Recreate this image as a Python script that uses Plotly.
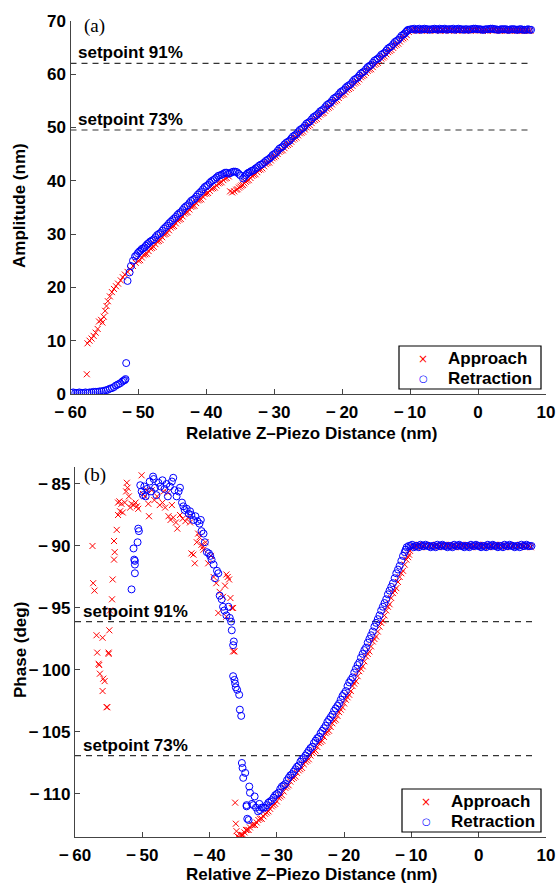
import plotly.graph_objects as go

# ---------------- data ----------------
amp_approach = [(-57.6,3.7),(-57.5,9.5),(-57.2,10.0),(-56.9,10.4),(-56.6,10.9),(-56.3,11.5),(-56.0,12.2),(-55.8,13.6),(-55.5,13.9),(-55.3,13.4),(-55.1,14.5),(-54.9,15.6),(-54.7,16.5),(-54.5,17.4),(-54.2,18.3),(-53.9,19.1),(-53.6,19.7),(-53.3,20.2),(-53.0,20.7),(-52.6,21.3),(-52.3,21.9),(-52.0,22.4),(-51.6,22.9),(-51.2,23.4),(-50.8,24.0),(-50.4,24.6),(-50.0,25.0),(-49.5,25.6),(-49.0,26.2),(-48.5,26.8),(-48.0,27.4),(-47.5,28.1),(-47.0,28.7),(-46.5,29.4),(-46.0,30.0),(-45.5,30.7),(-45.0,31.4),(-44.5,32.0),(-44.0,32.7),(-43.5,33.3),(-43.0,34.0),(-42.5,34.6),(-42.0,35.2),(-41.5,35.8),(-41.0,36.4),(-40.5,37.0),(-40.0,37.6),(-39.5,38.1),(-39.0,38.6),(-38.5,39.1),(-38.0,39.6),(-37.5,40.1),(-37.0,40.5),(-36.7,40.8),(-36.5,38.0),(-36.2,37.8),(-35.9,38.0),(-35.6,38.3),(-35.2,38.7),(-34.8,39.1),(-34.4,39.5),(-34.0,40.0),(-33.5,40.5),(-33.0,41.1),(-32.5,41.6),(-32.0,42.1),(-31.5,42.7),(-31.0,43.3),(-30.5,43.8),(-30.0,44.4),(-29.5,45.0),(-29.0,45.6),(-28.5,46.1),(-28.0,46.7),(-27.5,47.3),(-27.0,47.9),(-26.5,48.5),(-26.0,49.0),(-25.5,49.6),(-25.0,50.2),(-24.5,50.8),(-24.0,51.4),(-23.5,52.0),(-23.0,52.6),(-22.5,53.1),(-22.0,53.7),(-21.5,54.3),(-21.0,54.9),(-20.5,55.5),(-20.0,56.1),(-19.5,56.6),(-19.0,57.2),(-18.5,57.8),(-18.0,58.4),(-17.5,59.0),(-17.0,59.6),(-16.5,60.2),(-16.0,60.8),(-15.5,61.3),(-15.0,61.9),(-14.5,62.5),(-14.0,63.1),(-13.5,63.7),(-13.0,64.3),(-12.5,64.9),(-12.0,65.5),(-11.5,66.1),(-11.0,66.7),(-10.5,67.3),(-10.2,67.9),(-9.8,68.2),(-9.3,68.3),(-8.8,68.2),(-8.3,68.1),(-7.8,68.3),(-7.3,68.2),(-6.8,68.3),(-6.3,68.2),(-5.8,68.2),(-5.3,68.3),(-4.8,68.1),(-4.3,68.2),(-3.8,68.3),(-3.3,68.2),(-2.8,68.2),(-2.3,68.1),(-1.8,68.3),(-1.3,68.2),(-0.8,68.2),(-0.3,68.3),(0.2,68.2),(0.7,68.1),(1.2,68.2),(1.7,68.3),(2.2,68.2),(2.7,68.2),(3.2,68.1),(3.7,68.2),(4.2,68.2),(4.7,68.1),(5.2,68.2),(5.7,68.2),(6.2,68.1),(6.7,68.1),(7.2,68.2),(7.7,68.1)]
amp_approach_more = [(-49.75,25.1),(-49.25,26.1),(-48.75,26.3),(-48.25,27.3),(-47.75,27.6),(-47.25,28.6),(-46.75,28.9),(-46.25,29.9),(-45.75,30.2),(-45.25,31.2),(-44.75,31.5),(-44.25,32.5),(-43.75,32.8),(-43.25,33.8),(-42.75,34.1),(-42.25,35.1),(-41.75,35.3),(-41.25,36.3),(-40.75,36.5),(-40.25,37.5),(-39.75,37.7),(-39.25,38.5),(-38.75,38.7),(-38.25,39.5),(-37.75,39.7),(-37.25,40.4),(-35.4,38.4),(-35.0,38.9),(-34.6,39.2),(-34.2,39.8),(-33.75,40.1),(-33.25,40.9),(-32.75,41.2),(-32.25,42.0),(-31.75,42.3),(-31.25,43.1),(-30.75,43.4),(-30.25,44.2),(-29.75,44.6),(-29.25,45.4),(-28.75,45.7),(-28.25,46.5),(-27.75,46.9),(-27.25,47.7),(-26.75,48.1),(-26.25,48.9),(-25.75,49.2),(-25.25,50.0),(-24.75,50.4),(-24.25,51.2),(-23.75,51.6),(-23.25,52.4),(-22.75,52.7),(-22.25,53.5),(-21.75,53.9),(-21.25,54.7),(-20.75,55.1),(-20.25,55.9),(-19.75,56.2),(-19.25,57.0),(-18.75,57.4),(-18.25,58.2),(-17.75,58.6),(-17.25,59.4),(-16.75,59.8),(-16.25,60.6),(-15.75,60.9),(-15.25,61.7),(-14.75,62.1),(-14.25,62.9),(-13.75,63.3),(-13.25,64.1),(-12.75,64.5),(-12.25,65.3),(-11.75,65.7),(-11.25,66.5),(-10.75,66.9),(-9.55,68.2),(-9.05,68.1),(-8.55,68.3),(-8.05,68.2),(-7.55,68.2),(-7.05,68.1),(-6.55,68.3),(-6.05,68.2),(-5.55,68.1),(-5.05,68.2),(-4.55,68.3),(-4.05,68.2),(-3.55,68.1),(-3.05,68.2),(-2.55,68.3),(-2.05,68.2),(-1.55,68.2),(-1.05,68.1),(-0.55,68.2),(-0.05,68.3),(0.45,68.2),(0.95,68.2),(1.45,68.1),(1.95,68.2),(2.45,68.3),(2.95,68.2),(3.45,68.1),(3.95,68.2),(4.45,68.2),(4.95,68.1),(5.45,68.2),(5.95,68.2),(6.45,68.1),(6.95,68.2),(7.45,68.1)]

amp_retraction = [(-59.9,0.2),(-59.6,0.3),(-59.3,0.2),(-59.0,0.2),(-58.7,0.3),(-58.4,0.2),(-58.1,0.2),(-57.8,0.3),(-57.5,0.2),(-57.2,0.3),(-56.9,0.3),(-56.6,0.4),(-56.3,0.4),(-56.0,0.4),(-55.7,0.5),(-55.4,0.5),(-55.1,0.6),(-54.8,0.7),(-54.5,0.8),(-54.2,1.0),(-53.9,1.1),(-53.6,1.3),(-53.3,1.6),(-53.0,1.8),(-52.7,2.0),(-52.4,2.3),(-52.2,2.5),(-52.0,2.6),(-51.9,2.8),(-51.8,5.8),(-51.6,21.2),(-51.3,22.8),(-51.1,24.0),(-50.8,25.0),(-50.5,25.8),(-50.1,26.4),(-49.7,26.9),(-49.3,27.3),(-48.9,27.8),(-48.5,28.3),(-48.0,28.8),(-47.5,29.4),(-47.0,30.0),(-46.5,30.6),(-46.0,31.3),(-45.5,32.0),(-45.0,32.6),(-44.5,33.2),(-44.0,33.9),(-43.5,34.5),(-43.0,35.2),(-42.5,35.8),(-42.0,36.4),(-41.5,37.0),(-41.0,37.7),(-40.5,38.4),(-40.0,39.0),(-39.5,39.6),(-39.0,40.1),(-38.5,40.6),(-38.0,41.0),(-37.5,41.3),(-37.0,41.5),(-36.5,41.4),(-36.0,41.7),(-35.5,41.6),(-35.0,41.0),(-34.6,40.4),(-34.2,41.0),(-33.8,41.5),(-33.4,41.8),(-33.0,42.0),(-32.5,42.5),(-32.0,43.0),(-31.5,43.4),(-31.0,43.9),(-30.5,44.4),(-30.0,45.0),(-29.5,45.6),(-29.0,46.2),(-28.5,46.8),(-28.0,47.3),(-27.5,47.9),(-27.0,48.5),(-26.5,49.1),(-26.0,49.7),(-25.5,50.3),(-25.0,50.9),(-24.5,51.5),(-24.0,52.1),(-23.5,52.6),(-23.0,53.2),(-22.5,53.8),(-22.0,54.4),(-21.5,55.0),(-21.0,55.6),(-20.5,56.2),(-20.0,56.8),(-19.5,57.4),(-19.0,57.9),(-18.5,58.5),(-18.0,59.1),(-17.5,59.7),(-17.0,60.3),(-16.5,60.9),(-16.0,61.5),(-15.5,62.1),(-15.0,62.7),(-14.5,63.2),(-14.0,63.8),(-13.5,64.4),(-13.0,65.0),(-12.5,65.6),(-12.0,66.2),(-11.5,66.8),(-11.0,67.4),(-10.6,67.9),(-10.3,68.3),(-9.9,68.4),(-9.4,68.5),(-8.9,68.4),(-8.4,68.3),(-7.9,68.5),(-7.4,68.4),(-6.9,68.4),(-6.4,68.5),(-5.9,68.3),(-5.4,68.4),(-4.9,68.5),(-4.4,68.4),(-3.9,68.4),(-3.4,68.3),(-2.9,68.5),(-2.4,68.4),(-1.9,68.4),(-1.4,68.3),(-0.9,68.4),(-0.4,68.5),(0.1,68.4),(0.6,68.3),(1.1,68.4),(1.6,68.4),(2.1,68.5),(2.6,68.4),(3.1,68.3),(3.6,68.4),(4.1,68.4),(4.6,68.3),(5.1,68.4),(5.6,68.3),(6.1,68.4),(6.6,68.3),(7.1,68.3),(7.6,68.3)]
amp_retraction_more = [(-50.3,26.0),(-49.9,26.7),(-49.5,27.2),(-49.1,27.5),(-48.7,28.1),(-48.25,28.6),(-47.75,29.0),(-47.25,29.8),(-46.75,30.2),(-46.25,31.0),(-45.75,31.6),(-45.25,32.3),(-44.75,32.9),(-44.25,33.6),(-43.75,34.1),(-43.25,34.9),(-42.75,35.4),(-42.25,36.2),(-41.75,36.6),(-41.25,37.4),(-40.75,38.0),(-40.25,38.8),(-39.75,39.2),(-39.25,39.9),(-38.75,40.3),(-38.25,40.9),(-37.75,41.1),(-37.25,41.5),(-36.75,41.3),(-36.25,41.6),(-35.75,41.7),(-35.25,41.3),(-34.4,40.7),(-34.0,41.3),(-33.6,41.6),(-33.2,41.9),(-32.75,42.3),(-32.25,42.8),(-31.75,43.1),(-31.25,43.7),(-30.75,44.1),(-30.25,44.8),(-29.75,45.2),(-29.25,46.0),(-28.75,46.4),(-28.25,47.1),(-27.75,47.5),(-27.25,48.3),(-26.75,48.7),(-26.25,49.5),(-25.75,49.9),(-25.25,50.7),(-24.75,51.1),(-24.25,51.9),(-23.75,52.3),(-23.25,53.0),(-22.75,53.4),(-22.25,54.2),(-21.75,54.6),(-21.25,55.4),(-20.75,55.8),(-20.25,56.6),(-19.75,57.0),(-19.25,57.7),(-18.75,58.1),(-18.25,58.9),(-17.75,59.3),(-17.25,60.1),(-16.75,60.5),(-16.25,61.3),(-15.75,61.7),(-15.25,62.5),(-14.75,62.9),(-14.25,63.6),(-13.75,64.0),(-13.25,64.8),(-12.75,65.2),(-12.25,66.0),(-11.75,66.4),(-11.25,67.2),(-10.8,67.6),(-10.45,68.1),(-9.65,68.4),(-9.15,68.3),(-8.65,68.5),(-8.15,68.4),(-7.65,68.4),(-7.15,68.3),(-6.65,68.4),(-6.15,68.4),(-5.65,68.5),(-5.15,68.4),(-4.65,68.3),(-4.15,68.4),(-3.65,68.5),(-3.15,68.4),(-2.65,68.4),(-2.15,68.3),(-1.65,68.4),(-1.15,68.4),(-0.65,68.5),(-0.15,68.4),(0.35,68.4),(0.85,68.3),(1.35,68.4),(1.85,68.5),(2.35,68.4),(2.85,68.3),(3.35,68.4),(3.85,68.4),(4.35,68.3),(4.85,68.4),(5.35,68.4),(5.85,68.3),(6.35,68.4),(6.85,68.3),(7.35,68.4),(7.8,68.3)]

phase_approach = [(-57.4,-90.0),(-57.3,-93.0),(-57.1,-93.6),(-56.8,-97.2),(-56.7,-98.6),(-56.5,-99.5),(-56.4,-99.6),(-56.3,-100.3),(-55.9,-97.4),(-55.8,-100.7),(-55.6,-100.9),(-55.9,-101.7),(-55.3,-103.0),(-55.2,-103.0),(-55.0,-98.6),(-55.0,-98.7),(-54.9,-96.8),(-54.8,-95.2),(-54.5,-94.3),(-54.4,-92.7),(-54.2,-91.1),(-54.1,-90.5),(-54.2,-89.6),(-53.8,-88.7),(-53.6,-87.5),(-53.6,-86.5),(-53.3,-87.2),(-53.1,-86.6),(-53.4,-86.4),(-52.9,-87.3),(-52.6,-86.5),(-52.4,-85.6),(-52.3,-84.9),(-52.2,-85.3),(-52.0,-86.0),(-51.8,-86.9),(-51.6,-86.6),(-51.3,-86.7),(-51.0,-86.5),(-50.8,-86.8),(-50.6,-87.0),(-50.1,-84.3),(-49.9,-85.8),(-49.6,-86.0),(-49.3,-85.5),(-49.1,-86.6),(-49.0,-87.6),(-48.6,-85.5),(-48.2,-86.3),(-47.8,-86.0),(-47.4,-86.7),(-47.0,-86.5),(-46.8,-85.6),(-46.6,-86.9),(-46.2,-85.7),(-46.1,-87.6),(-45.8,-87.9),(-45.6,-86.7),(-45.4,-87.7),(-45.0,-88.1),(-44.8,-88.6),(-44.4,-87.5),(-44.0,-87.8),(-43.6,-88.0),(-43.2,-87.7),(-42.9,-88.1),(-42.7,-90.6),(-42.4,-90.7),(-42.2,-91.4),(-41.9,-89.7),(-41.7,-89.0),(-41.5,-89.3),(-41.2,-89.9),(-41.0,-90.1),(-40.9,-90.3),(-40.6,-89.7),(-40.2,-91.4),(-39.8,-90.8),(-39.4,-92.5),(-39.0,-93.0),(-38.7,-95.4),(-38.5,-93.7),(-38.0,-94.1),(-37.7,-93.2),(-37.5,-92.3),(-37.3,-92.5),(-37.1,-92.7),(-36.9,-94.2),(-36.7,-95.0),(-37.5,-95.7),(-36.5,-95.0),(-36.5,-98.5),(-36.3,-98.5),(-36.2,-110.7),(-36.1,-112.4),(-36.0,-113.0),(-35.9,-113.4),(-35.6,-113.5),(-35.2,-113.3),(-34.8,-113.1),(-34.4,-112.9),(-34.0,-112.7),(-33.5,-112.5),(-33.0,-112.3),(-32.5,-112.0),(-32.0,-111.8),(-31.5,-111.5),(-31.0,-111.2),(-30.5,-110.9),(-30.0,-110.6),(-29.5,-110.2),(-29.0,-109.8),(-28.5,-109.4),(-28.0,-109.0),(-27.5,-108.7),(-27.0,-108.3),(-26.5,-108.0),(-26.0,-107.6),(-25.5,-107.3),(-25.0,-106.9),(-24.5,-106.6),(-24.0,-106.2),(-23.5,-105.8),(-23.0,-105.4),(-22.5,-105.0),(-22.0,-104.6),(-21.5,-104.1),(-21.0,-103.7),(-20.5,-103.2),(-20.0,-102.7),(-19.5,-102.2),(-19.0,-101.7),(-18.5,-101.1),(-18.0,-100.5),(-17.5,-99.9),(-17.0,-99.3),(-16.5,-98.7),(-16.0,-98.1),(-15.5,-97.5),(-15.0,-96.9),(-14.5,-96.2),(-14.0,-95.6),(-13.5,-94.9),(-13.0,-94.2),(-12.5,-93.6),(-12.0,-92.9),(-11.5,-92.2),(-11.0,-91.5),(-10.5,-90.9),(-10.2,-90.4),(-10.0,-90.1),(-9.5,-90.0),(-9.0,-89.9),(-8.5,-90.1),(-8.0,-90.0),(-7.5,-90.0),(-7.0,-89.9),(-6.5,-90.0),(-6.0,-90.1),(-5.5,-90.0),(-5.0,-89.9),(-4.5,-90.0),(-4.0,-90.0),(-3.5,-90.1),(-3.0,-90.0),(-2.5,-89.9),(-2.0,-90.0),(-1.5,-90.0),(-1.0,-90.1),(-0.5,-90.0),(0.0,-89.9),(0.5,-90.0),(1.0,-90.0),(1.5,-90.1),(2.0,-90.0),(2.5,-89.9),(3.0,-90.0),(3.5,-90.0),(4.0,-90.1),(4.5,-90.0),(5.0,-90.0),(5.5,-89.9),(6.0,-90.0),(6.5,-90.0),(7.0,-90.1),(7.5,-90.0)]
phase_approach_more = [(-35.4,-113.3),(-35.0,-113.3),(-34.6,-112.9),(-34.2,-112.9),(-33.75,-112.5),(-33.25,-112.5),(-32.75,-112.1),(-32.25,-112.0),(-31.75,-111.6),(-31.25,-111.4),(-30.75,-111.0),(-30.25,-110.8),(-29.75,-110.3),(-29.25,-110.1),(-28.75,-109.5),(-28.25,-109.3),(-27.75,-108.8),(-27.25,-108.6),(-26.75,-108.1),(-26.25,-107.9),(-25.75,-107.4),(-25.25,-107.2),(-24.75,-106.7),(-24.25,-106.5),(-23.75,-105.9),(-23.25,-105.7),(-22.75,-105.1),(-22.25,-104.9),(-21.75,-104.3),(-21.25,-104.0),(-20.75,-103.4),(-20.25,-103.0),(-19.75,-102.4),(-19.25,-102.0),(-18.75,-101.3),(-18.25,-100.9),(-17.75,-100.1),(-17.25,-99.7),(-16.75,-98.9),(-16.25,-98.5),(-15.75,-97.7),(-15.25,-97.3),(-14.75,-96.5),(-14.25,-96.0),(-13.75,-95.2),(-13.25,-94.7),(-12.75,-93.8),(-12.25,-93.4),(-11.75,-92.5),(-11.25,-92.0),(-10.75,-91.1),(-10.35,-90.7),(-9.75,-90.1),(-9.25,-90.0),(-8.75,-89.9),(-8.25,-90.0),(-7.75,-90.1),(-7.25,-90.0),(-6.75,-90.0),(-6.25,-89.9),(-5.75,-90.0),(-5.25,-90.1),(-4.75,-90.0),(-4.25,-89.9),(-3.75,-90.0),(-3.25,-90.0),(-2.75,-90.1),(-2.25,-90.0),(-1.75,-89.9),(-1.25,-90.0),(-0.75,-90.0),(-0.25,-90.1),(0.25,-90.0),(0.75,-89.9),(1.25,-90.0),(1.75,-90.0),(2.25,-90.1),(2.75,-90.0),(3.25,-89.9),(3.75,-90.0),(4.25,-90.0),(4.75,-90.1),(5.25,-90.0),(5.75,-90.0),(6.25,-89.9),(6.75,-90.0),(7.25,-90.0),(7.75,-90.1)]

phase_retraction = [(-51.6,-93.5),(-51.3,-90.2),(-51.2,-91.1),(-51.1,-91.2),(-51.1,-91.5),(-51.1,-92.2),(-50.7,-89.7),(-50.5,-88.8),(-50.6,-88.6),(-50.3,-85.1),(-50.1,-85.6),(-49.9,-85.9),(-49.7,-85.2),(-49.5,-86.0),(-49.3,-85.4),(-48.9,-84.8),(-48.7,-85.6),(-48.4,-84.4),(-48.3,-84.6),(-48.1,-85.3),(-47.9,-85.9),(-47.6,-84.9),(-47.3,-85.2),(-47.0,-84.7),(-46.7,-85.4),(-46.4,-85.0),(-46.2,-86.0),(-45.9,-85.2),(-45.6,-84.8),(-45.4,-84.5),(-45.2,-85.5),(-44.9,-86.0),(-44.6,-85.6),(-44.4,-85.3),(-44.1,-86.5),(-43.9,-86.8),(-43.7,-87.1),(-43.4,-87.0),(-43.1,-87.4),(-42.9,-87.2),(-42.7,-87.5),(-42.4,-87.9),(-42.1,-87.6),(-41.8,-88.0),(-41.5,-88.2),(-41.3,-87.9),(-41.2,-88.8),(-40.9,-89.0),(-40.7,-89.7),(-40.4,-90.5),(-40.1,-90.6),(-39.9,-90.8),(-39.7,-91.1),(-39.4,-91.5),(-39.2,-92.6),(-38.9,-92.0),(-38.7,-92.2),(-38.5,-94.0),(-38.2,-94.3),(-38.0,-94.9),(-37.8,-95.2),(-37.5,-95.6),(-37.2,-94.9),(-37.0,-95.8),(-36.8,-96.1),(-36.7,-96.8),(-36.5,-98.0),(-36.4,-97.7),(-36.5,-100.5),(-36.3,-100.8),(-36.2,-101.1),(-36.1,-101.4),(-35.9,-101.6),(-35.6,-102.0),(-35.5,-103.2),(-35.3,-103.7),(-35.2,-107.5),(-35.1,-107.9),(-35.0,-108.7),(-34.7,-108.3),(-34.1,-109.4),(-34.0,-109.9),(-34.5,-110.9),(-34.5,-111.0),(-34.2,-112.1),(-34.4,-112.0),(-33.7,-110.8),(-33.5,-110.9),(-33.3,-110.2),(-33.1,-111.1),(-32.8,-111.4),(-32.6,-110.8),(-32.5,-111.3),(-32.0,-111.1),(-31.5,-110.9),(-31.0,-110.6),(-30.5,-110.3),(-30.0,-110.0),(-29.5,-109.6),(-29.0,-109.3),(-28.5,-108.9),(-28.0,-108.5),(-27.5,-108.2),(-27.0,-107.8),(-26.5,-107.4),(-26.0,-107.1),(-25.5,-106.7),(-25.0,-106.3),(-24.5,-105.9),(-24.0,-105.5),(-23.5,-105.1),(-23.0,-104.7),(-22.5,-104.2),(-22.0,-103.8),(-21.5,-103.3),(-21.0,-102.9),(-20.5,-102.4),(-20.0,-101.9),(-19.5,-101.3),(-19.0,-100.8),(-18.5,-100.2),(-18.0,-99.6),(-17.5,-99.0),(-17.0,-98.4),(-16.5,-97.8),(-16.0,-97.2),(-15.5,-96.5),(-15.0,-95.9),(-14.5,-95.2),(-14.0,-94.6),(-13.5,-93.9),(-13.0,-93.3),(-12.5,-92.6),(-12.0,-91.9),(-11.5,-91.2),(-11.0,-90.5),(-10.7,-90.1),(-10.4,-90.0),(-9.9,-89.9),(-9.4,-90.0),(-8.9,-90.1),(-8.4,-90.0),(-7.9,-89.9),(-7.4,-90.0),(-6.9,-90.0),(-6.4,-90.1),(-5.9,-90.0),(-5.4,-89.9),(-4.9,-90.0),(-4.4,-90.0),(-3.9,-90.1),(-3.4,-90.0),(-2.9,-89.9),(-2.4,-90.0),(-1.9,-90.0),(-1.4,-90.1),(-0.9,-90.0),(-0.4,-89.9),(0.1,-90.0),(0.6,-90.0),(1.1,-90.1),(1.6,-90.0),(2.1,-89.9),(2.6,-90.0),(3.1,-90.0),(3.6,-90.1),(4.1,-90.0),(4.6,-89.9),(5.1,-90.0),(5.6,-90.0),(6.1,-90.1),(6.6,-90.0),(7.1,-89.9),(7.6,-90.0)]
phase_retraction_more = [(-32.25,-111.1),(-31.75,-111.1),(-31.25,-110.7),(-30.75,-110.5),(-30.25,-110.1),(-29.75,-109.9),(-29.25,-109.4),(-28.75,-109.2),(-28.25,-108.7),(-27.75,-108.4),(-27.25,-108.0),(-26.75,-107.7),(-26.25,-107.2),(-25.75,-106.9),(-25.25,-106.5),(-24.75,-106.2),(-24.25,-105.7),(-23.75,-105.4),(-23.25,-104.9),(-22.75,-104.5),(-22.25,-104.0),(-21.75,-103.6),(-21.25,-103.1),(-20.75,-102.7),(-20.25,-102.1),(-19.75,-101.7),(-19.25,-101.0),(-18.75,-100.6),(-18.25,-99.9),(-17.75,-99.4),(-17.25,-98.7),(-16.75,-98.2),(-16.25,-97.5),(-15.75,-96.9),(-15.25,-96.2),(-14.75,-95.6),(-14.25,-94.9),(-13.75,-94.3),(-13.25,-93.6),(-12.75,-93.0),(-12.25,-92.2),(-11.75,-91.6),(-11.25,-90.8),(-10.85,-90.3),(-10.15,-90.0),(-9.65,-90.1),(-9.15,-90.0),(-8.65,-89.9),(-8.15,-90.0),(-7.65,-90.0),(-7.15,-90.1),(-6.65,-90.0),(-6.15,-89.9),(-5.65,-90.0),(-5.15,-90.0),(-4.65,-90.1),(-4.15,-90.0),(-3.65,-89.9),(-3.15,-90.0),(-2.65,-90.0),(-2.15,-90.1),(-1.65,-90.0),(-1.15,-89.9),(-0.65,-90.0),(-0.15,-90.0),(0.35,-90.1),(0.85,-90.0),(1.35,-89.9),(1.85,-90.0),(2.35,-90.0),(2.85,-90.1),(3.35,-90.0),(3.85,-89.9),(4.35,-90.0),(4.85,-90.0),(5.35,-90.1),(5.85,-90.0),(6.35,-89.9),(6.85,-90.0),(7.35,-90.0),(7.85,-90.0)]

series_names = ["Approach", "Retraction"]
setpoint_labels = ["setpoint 91%", "setpoint 73%"]
amp_setpoints = [62.0, 49.5]
phase_setpoints = [-96.1, -106.9]
setpoint_x_span = [-60, 8]

x_tick_vals = [-60, -50, -40, -30, -20, -10, 0, 10]
x_tick_text = ["\u2212\u200960", "\u2212\u200950", "\u2212\u200940", "\u2212\u200930", "\u2212\u200920", "\u2212\u200910", "0", "10"]
amp_tick_vals = [0, 10, 20, 30, 40, 50, 60, 70]
amp_tick_text = ["0", "10", "20", "30", "40", "50", "60", "70"]
phase_tick_vals = [-110, -105, -100, -95, -90, -85]
phase_tick_text = ["\u2212\u2009110", "\u2212\u2009105", "\u2212\u2009100", "\u2212\u200995", "\u2212\u200990", "\u2212\u200985"]

# ---------------- figure ----------------
W, H = 556, 883
SANS = "Liberation Sans, Arial, Helvetica, sans-serif"
SERIF = "Liberation Serif, Times New Roman, serif"
bold17 = dict(family=SANS, size=17, color="black", weight="bold")
RED = "#ff0000"
BLUE = "#0000ff"

red_marker = dict(symbol="x-thin", size=6, color=RED, line=dict(width=1, color=RED))
blue_marker = dict(symbol="circle-open", size=7, color=BLUE, line=dict(width=1, color=BLUE))


def xs(*lists):
    return [p[0] for lst in lists for p in lst]


def ys(*lists):
    return [p[1] for lst in lists for p in lst]


fig = go.Figure()
fig.add_trace(go.Scatter(x=xs(amp_approach, amp_approach_more), y=ys(amp_approach, amp_approach_more),
                         mode="markers", name=series_names[0], marker=red_marker, xaxis="x", yaxis="y"))
fig.add_trace(go.Scatter(x=xs(amp_retraction, amp_retraction_more), y=ys(amp_retraction, amp_retraction_more),
                         mode="markers", name=series_names[1], marker=blue_marker, xaxis="x", yaxis="y"))
fig.add_trace(go.Scatter(x=xs(phase_approach, phase_approach_more), y=ys(phase_approach, phase_approach_more),
                         mode="markers", name=series_names[0], marker=red_marker, xaxis="x2", yaxis="y2"))
fig.add_trace(go.Scatter(x=xs(phase_retraction, phase_retraction_more), y=ys(phase_retraction, phase_retraction_more),
                         mode="markers", name=series_names[1], marker=blue_marker, xaxis="x2", yaxis="y2"))

shapes = []
annotations = []
for axes, vals in (("", amp_setpoints), ("2", phase_setpoints)):
    for lab, v in zip(setpoint_labels, vals):
        shapes.append(dict(type="line", xref="x" + axes, yref="y" + axes,
                           x0=setpoint_x_span[0], x1=setpoint_x_span[1], y0=v, y1=v,
                           line=dict(color="#333333", width=1.2, dash="6px,5px"), layer="below"))
        annotations.append(dict(xref="x" + axes, yref="y" + axes, x=-59.0, y=v, text=lab,
                                showarrow=False, xanchor="left", yanchor="bottom",
                                font=bold17, borderpad=0))

# legend boxes drawn as shapes + text (compact like the original)
legend_boxes = [  # (left, top, right, bottom) in pixels
    (399, 346, 541, 389),
    (402, 789, 541, 832),
]
for (l, t, r, b) in legend_boxes:
    shapes.append(dict(type="rect", xref="paper", yref="paper", x0=l / W, x1=r / W,
                       y0=1 - b / H, y1=1 - t / H, line=dict(color="black", width=1.2),
                       fillcolor="white", layer="above"))
    row1 = t + 12.5
    row2 = t + 32.5
    for row, name, sym, col, fs in ((row1, series_names[0], "\u00d7", RED, 12),
                                     (row2, series_names[1], "\u25cb", BLUE, 10)):
        annotations.append(dict(xref="paper", yref="paper", x=(l + 24) / W, y=1 - row / H, text=sym,
                                showarrow=False, xanchor="center", yanchor="middle",
                                font=dict(family="DejaVu Sans, sans-serif", size=fs, color=col)))
        annotations.append(dict(xref="paper", yref="paper", x=(l + 47) / W, y=1 - row / H, text=name,
                                showarrow=False, xanchor="left", yanchor="middle", font=bold17))


def ax_common(tv, tt, standoff=0):
    return dict(showline=True, linecolor="#444444", linewidth=1.3, ticks="inside", ticklen=5,
                tickcolor="#444444", tickwidth=1.2, showgrid=False, zeroline=False, automargin=False,
                tickvals=tv, ticktext=tt, tickfont=bold17, fixedrange=True, ticklabelstandoff=standoff)


fig.update_layout(
    width=W, height=H,
    margin=dict(l=0, r=0, t=0, b=0),
    paper_bgcolor="white", plot_bgcolor="white",
    showlegend=False,
    xaxis=dict(domain=[70.5 / W, 546 / W], range=[-60, 10], anchor="y", **ax_common(x_tick_vals, x_tick_text, 2)),
    yaxis=dict(domain=[1 - 394 / H, 1 - 20.7 / H], range=[0, 70], anchor="x", **ax_common(amp_tick_vals, amp_tick_text)),
    xaxis2=dict(domain=[75 / W, 546 / W], range=[-60, 10], anchor="y2", **ax_common(x_tick_vals, x_tick_text, 2)),
    yaxis2=dict(domain=[1 - 837 / H, 1 - 467 / H], range=[-113.47, -83.63], anchor="x2", **ax_common(phase_tick_vals, phase_tick_text)),
    shapes=shapes,
)

annotations += [
    dict(xref="paper", yref="paper", x=94 / W, y=1 - 26 / H, text="(a)", showarrow=False,
         xanchor="center", yanchor="middle", font=dict(family=SERIF, size=19, color="black")),
    dict(xref="paper", yref="paper", x=94.5 / W, y=1 - 475 / H, text="(b)", showarrow=False,
         xanchor="center", yanchor="middle", font=dict(family=SERIF, size=19, color="black")),
    dict(xref="paper", yref="paper", x=20 / W, y=1 - 206 / H, text="Amplitude (nm)", showarrow=False,
         textangle=-90, xanchor="center", yanchor="middle", font=bold17),
    dict(xref="paper", yref="paper", x=20 / W, y=1 - 650 / H, text="Phase (deg)", showarrow=False,
         textangle=-90, xanchor="center", yanchor="middle", font=bold17),
    dict(xref="paper", yref="paper", x=311 / W, y=1 - 433 / H, text="Relative Z\u2013Piezo Distance (nm)",
         showarrow=False, xanchor="center", yanchor="middle", font=bold17),
    dict(xref="paper", yref="paper", x=311 / W, y=1 - 874 / H, text="Relative Z\u2013Piezo Distance (nm)",
         showarrow=False, xanchor="center", yanchor="middle", font=bold17),
]
fig.update_layout(annotations=annotations)

# remove the default page margin so the 556x883 figure fills the window exactly
fig.write_html("out.html", config={"displayModeBar": False},
               post_script="document.body.style.margin='0';document.body.style.overflow='hidden';")
